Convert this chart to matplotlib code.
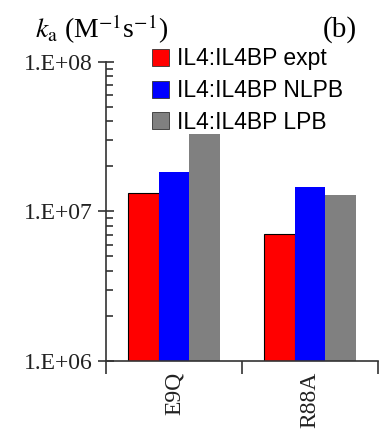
import numpy as np
import matplotlib
matplotlib.use("Agg")
import matplotlib.pyplot as plt
from matplotlib.ticker import FixedLocator, LogLocator, NullFormatter, FixedFormatter

# data
mutants = ["E9Q", "R88A"]
series = ["IL4:IL4BP expt", "IL4:IL4BP NLPB", "IL4:IL4BP LPB"]
expt = [1.32e7, 7.1e6]
nlpb = [1.85e7, 1.45e7]
lpb = [3.4e7, 1.28e7]
colors = ["#ff0000", "#0000ff", "#808080"]
ytick_labels = ["1.E+06", "1.E+07", "1.E+08"]

plt.rcParams['font.family'] = ['Liberation Serif', 'DejaVu Serif']
plt.rcParams['mathtext.fontset'] = 'stix'

fig = plt.figure(figsize=(3.86, 4.47), dpi=100)
ax = fig.add_axes([0.2746, 0.1924, 0.7044, 0.669])

x = np.arange(len(mutants)) + 0.5
w = 0.225
ax.bar(x - w, expt, w, color=colors[0], edgecolor='black', linewidth=0.8, label=series[0], zorder=2)
ax.bar(x, nlpb, w, color=colors[1], label=series[1], zorder=2)
ax.bar(x + w, lpb, w, color=colors[2], label=series[2], zorder=2)

ax.set_yscale('log')
ax.set_ylim(1e6, 1e8)
ax.set_xlim(0, 2)

ax.yaxis.set_major_locator(FixedLocator([1e6, 1e7, 1e8]))
ax.yaxis.set_major_formatter(FixedFormatter(ytick_labels))
ax.yaxis.set_minor_locator(LogLocator(base=10, subs=np.arange(2, 10)))
ax.yaxis.set_minor_formatter(NullFormatter())
ax.tick_params(axis='y', which='major', direction='inout', length=12, width=1.2,
               colors='#333333', labelsize=17, labelcolor='#222222')
ax.tick_params(axis='y', which='minor', direction='in', length=5, width=1.2, colors='#333333')

ax.xaxis.set_major_locator(FixedLocator([0, 1, 2]))
ax.xaxis.set_major_formatter(NullFormatter())
ax.xaxis.set_minor_locator(FixedLocator(x))
ax.xaxis.set_minor_formatter(FixedFormatter(mutants))
ax.tick_params(axis='x', which='major', direction='out', length=9, width=1.2, colors='#333333')
ax.tick_params(axis='x', which='minor', direction='in', length=5, width=1.2, colors='#333333',
               labelsize=17, labelcolor='#222222', labelrotation=90, pad=8)

for s in ['top', 'right']:
    ax.spines[s].set_visible(False)
for s in ['left', 'bottom']:
    ax.spines[s].set_color('#333333')
    ax.spines[s].set_linewidth(1.2)

leg = ax.legend(loc='upper left', bbox_to_anchor=(0.168, 1.05), frameon=True, facecolor='white',
                edgecolor='none', framealpha=1, fancybox=False,
                prop={'family': 'Liberation Sans', 'size': 16.5},
                handlelength=0.75, handleheight=0.75, handletextpad=0.35,
                labelspacing=0.38, borderpad=0.02, borderaxespad=0)
for h in leg.legend_handles:
    h.set_edgecolor('#333333')
    h.set_linewidth(0.6)

fig.text(0.09, 0.935, r"$k_\mathrm{a}$ (M$^{\mathrm{-1}}$s$^{\mathrm{-1}}$)", fontsize=20, va='center')
fig.text(0.835, 0.935, "(b)", fontsize=21, va='center')

fig.savefig('out.png', dpi=100)
